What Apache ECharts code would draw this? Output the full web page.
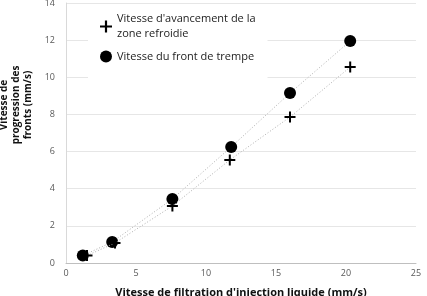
<!DOCTYPE html>
<html><head><meta charset="utf-8">
<script src="https://cdn.jsdelivr.net/npm/echarts@6/dist/echarts.min.js"></script>
<style>html,body{margin:0;padding:0;background:#fff}#c{width:427px;height:296px}</style>
</head><body><div id="c"></div>
<script>
const seriesNames = ["Vitesse d'avancement de la\nzone refroidie", "Vitesse du front de trempe"];
const plusX = [1.5, 3.5, 7.6, 11.7, 16.0, 20.3];
const plusY = [0.4, 1.08, 3.07, 5.55, 7.86, 10.55];
const dotX = [1.2, 3.3, 7.6, 11.8, 16.0, 20.3];
const dotY = [0.4, 1.13, 3.45, 6.25, 9.15, 11.95];
const xTicks = [0, 5, 10, 15, 20, 25];
const yTicks = [0, 2, 4, 6, 8, 10, 12, 14];
const plusPath = 'path://M4.5,0H6.5V4.5H11V6.5H6.5V11H4.5V6.5H0V4.5H4.5Z';
const font = '"Open Sans", "Liberation Sans", sans-serif';
const chart = echarts.init(document.getElementById('c'));
chart.setOption({
  animation: false,
  backgroundColor: '#fff',
  textStyle: {fontFamily: font},
  grid: {left: 66, right: 11, top: 3, bottom: 33, containLabel: false, outerBoundsMode: 'none'},
  legend: {
    left: 88, top: 4, orient: 'vertical', itemGap: 0,
    backgroundColor: '#fff', padding: [0, 12, 18, 12],
    itemWidth: 12, itemHeight: 14,
    textStyle: {fontSize: 11, color: '#222', fontFamily: font, lineHeight: 15},
    data: [
      {name: seriesNames[0], icon: plusPath, textStyle: {padding: [15, 0, 0, 0]}},
      {name: seriesNames[1], icon: 'circle'}
    ]
  },
  xAxis: {
    type: 'value', min: xTicks[0], max: xTicks[xTicks.length - 1], interval: 5,
    name: "Vitesse de filtration d'injection liquide (mm/s)",
    nameLocation: 'middle', nameGap: 24,
    nameTextStyle: {fontWeight: 'bold', fontSize: 11, color: '#111', fontFamily: font},
    axisLine: {lineStyle: {color: '#bfbfbf'}},
    axisTick: {show: false},
    axisLabel: {fontSize: 9, color: '#595959', margin: 6},
    splitLine: {show: false}
  },
  yAxis: {
    type: 'value', min: yTicks[0], max: yTicks[yTicks.length - 1], interval: 2,
    name: 'Vitesse de\nprogression des\nfronts (mm/s)',
    nameLocation: 'middle', nameGap: 24, nameRotate: 90,
    nameTextStyle: {fontWeight: 'bold', fontSize: 10, color: '#111', lineHeight: 12, fontFamily: font, padding: [0, 0, 0, 56]},
    axisLine: {show: true, lineStyle: {color: '#d9d9d9'}},
    axisTick: {show: false},
    axisLabel: {fontSize: 9, color: '#595959', margin: 11},
    splitLine: {lineStyle: {color: '#e6e6e6'}}
  },
  series: [
    {
      name: seriesNames[0], type: 'line', symbol: plusPath, symbolSize: 11,
      data: plusX.map((x, i) => [x, plusY[i]]),
      itemStyle: {color: '#000'},
      lineStyle: {color: '#b0b0b0', width: 1, type: [1, 2]},
      z: 3
    },
    {
      name: seriesNames[1], type: 'line', symbol: 'circle', symbolSize: 12,
      data: dotX.map((x, i) => [x, dotY[i]]),
      itemStyle: {color: '#000'},
      lineStyle: {color: '#b0b0b0', width: 1, type: [1, 2]},
      z: 2
    }
  ]
});
</script></body></html>
